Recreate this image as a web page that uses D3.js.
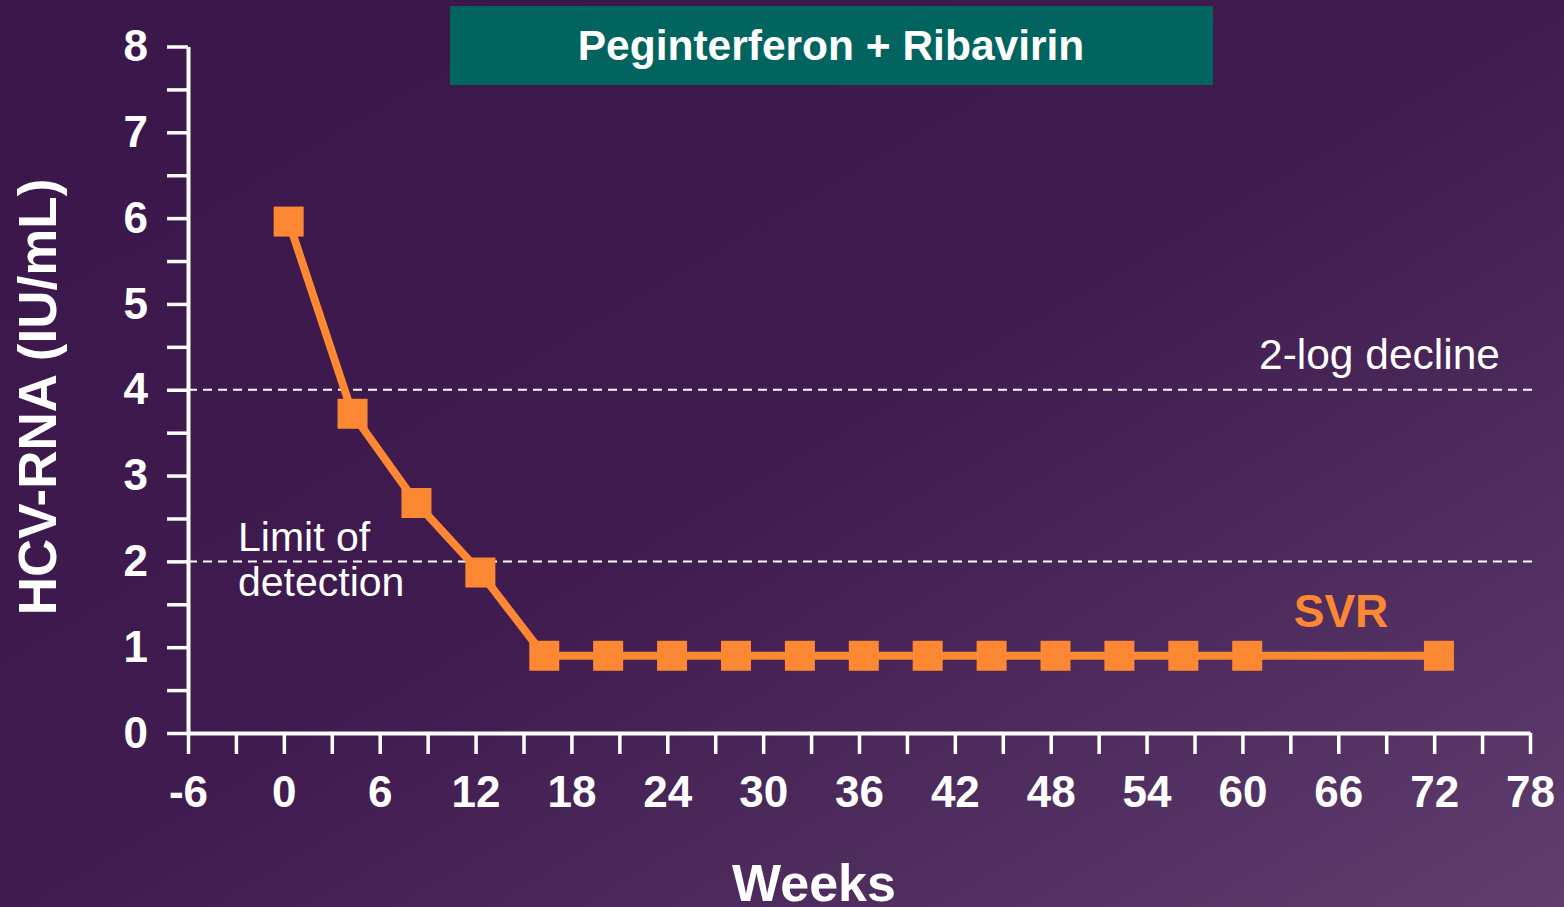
<!DOCTYPE html>
<html>
<head>
<meta charset="utf-8">
<script src="https://cdn.jsdelivr.net/npm/d3@7"></script>
<style>
  html, body { margin: 0; padding: 0; overflow: hidden; }
  svg { display: block; font-family: "Liberation Sans", Arial, sans-serif; }
</style>
</head>
<body>
<figure id="chart" style="margin:0"></figure>
<script>
// values
const weeks = [0.3, 4.3, 8.3, 12.3, 16.3, 20.3, 24.3, 28.3, 32.3, 36.3, 40.3, 44.3, 48.3, 52.3, 56.3, 60.3, 72.3];
const hcvRna = [5.96, 3.72, 2.68, 1.87, 0.9, 0.9, 0.9, 0.9, 0.9, 0.9, 0.9, 0.9, 0.9, 0.9, 0.9, 0.9, 0.9];
const xTicks = d3.range(-6, 79, 3);
const yTicks = d3.range(0, 8.01, 0.5);
const refLines = [
  { value: 4, label: "2-log decline" },
  { value: 2, label: "Limit of detection" }
];
const title = "Peginterferon + Ribavirin";

const width = 1564, height = 907;
const orange = "#fd8833";

const svg = d3.select("#chart").append("svg")
  .attr("width", width)
  .attr("height", height);

// background
const grad = svg.append("defs").append("linearGradient")
  .attr("id", "bg").attr("x1", "0%").attr("y1", "0%").attr("x2", "100%").attr("y2", "100%");
grad.append("stop").attr("offset", "0%").attr("stop-color", "#3a164a");
grad.append("stop").attr("offset", "50%").attr("stop-color", "#3f1b4f");
grad.append("stop").attr("offset", "100%").attr("stop-color", "#5f3d6d");
svg.append("rect").attr("width", width).attr("height", height).attr("fill", "url(#bg)");

const x = d3.scaleLinear().domain([-6, 78]).range([188, 1530]);
const y = d3.scaleLinear().domain([0, 8]).range([733, 46.5]);

// title box
svg.append("rect")
  .attr("x", 450).attr("y", 6).attr("width", 763).attr("height", 79)
  .attr("fill", "#02645f");
svg.append("text")
  .attr("x", 831).attr("y", 60)
  .attr("text-anchor", "middle")
  .attr("fill", "#fff").attr("font-weight", "bold").attr("font-size", 42.5)
  .text(title);

// reference lines
svg.selectAll(".ref")
  .data(refLines)
  .enter().append("line")
  .attr("x1", x(-6)).attr("x2", x(78) + 3)
  .attr("y1", d => y(d.value)).attr("y2", d => y(d.value))
  .attr("stroke", "#fff").attr("stroke-width", 2)
  .attr("stroke-dasharray", "9,6");

svg.append("text")
  .attr("x", 1500).attr("y", 369)
  .attr("text-anchor", "end")
  .attr("fill", "#fff").attr("font-size", 42.5)
  .text(refLines[0].label);

const lod = svg.append("text")
  .attr("x", 238).attr("y", 551)
  .attr("fill", "#fff").attr("font-size", 41);
lod.append("tspan").attr("x", 238).text("Limit of");
lod.append("tspan").attr("x", 238).attr("dy", 45).text("detection");

// axes
const xAxis = svg.append("g")
  .attr("transform", "translate(0," + y(0) + ")")
  .call(d3.axisBottom(x)
    .tickValues(xTicks)
    .tickSize(21)
    .tickSizeOuter(0)
    .tickPadding(22)
    .tickFormat(d => d % 6 === 0 ? d : ""));

const yAxis = svg.append("g")
  .attr("transform", "translate(" + x(-6) + ",0)")
  .call(d3.axisLeft(y)
    .tickValues(yTicks)
    .tickSize(21)
    .tickSizeOuter(0)
    .tickPadding(19)
    .tickFormat(d => Number.isInteger(d) ? d : ""));

[xAxis, yAxis].forEach(g => {
  g.select(".domain").attr("stroke", "#fff").attr("stroke-width", 4);
  g.selectAll(".tick line").attr("stroke", "#fff").attr("stroke-width", 3.5);
  g.selectAll(".tick text")
    .attr("fill", "#fff")
    .attr("font-family", "'Liberation Sans', Arial, sans-serif")
    .attr("font-weight", "bold")
    .attr("font-size", 44);
});

// axis titles
svg.append("text")
  .attr("transform", "translate(56,397) rotate(-90)")
  .attr("text-anchor", "middle")
  .attr("fill", "#fff").attr("font-weight", "bold").attr("font-size", 53)
  .text("HCV-RNA (IU/mL)");

svg.append("text")
  .attr("x", 814).attr("y", 901)
  .attr("text-anchor", "middle")
  .attr("fill", "#fff").attr("font-weight", "bold").attr("font-size", 52)
  .text("Weeks");

// series
const pts = weeks.map((w, i) => ({ w: w, v: hcvRna[i] }));

svg.append("path")
  .datum(pts)
  .attr("fill", "none")
  .attr("stroke", orange)
  .attr("stroke-width", 8)
  .attr("d", d3.line().x(d => x(d.w)).y(d => y(d.v)));

svg.selectAll(".pt")
  .data(pts)
  .enter().append("rect")
  .attr("x", d => x(d.w) - 15)
  .attr("y", d => y(d.v) - 15)
  .attr("width", 30).attr("height", 30)
  .attr("fill", orange);

svg.append("text")
  .attr("x", 1341).attr("y", 627)
  .attr("text-anchor", "middle")
  .attr("fill", orange).attr("font-weight", "bold").attr("font-size", 46)
  .text("SVR");
</script>
</body>
</html>
